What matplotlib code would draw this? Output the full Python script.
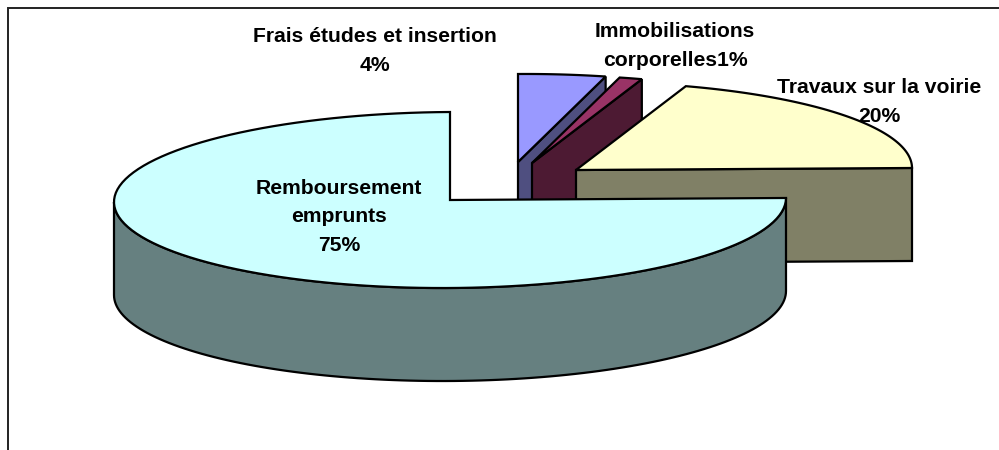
#!/usr/bin/env python3
"""
Exploded 3D-look pie chart of the investment budget
"""

import matplotlib
matplotlib.use('Agg')
import matplotlib.pyplot as plt
import numpy as np
from matplotlib.patches import Polygon

# Data, clockwise from the top of the pie
categories = ['Frais études et insertion', 'Immobilisations corporelles',
              'Travaux sur la voirie', 'Remboursement emprunts']
shares = [4.2, 1.1, 19.7, 75.0]
labels = ['Frais études et insertion\n4%', 'Immobilisations\ncorporelles1%',
          'Travaux sur la voirie\n20%', 'Remboursement\nemprunts\n75%']

top_colors = ['#9999FF', '#993366', '#FFFFCC', '#CCFFFF']
side_colors = ['#4F4F80', '#4D1A33', '#808066', '#668080']

# Pie apex of each slice (exploded) and label position, in pixels
apex_x = [518, 532, 576, 450]
apex_y = [162, 163, 170, 200]
label_x = [375, 675, 879, 339]
label_y = [51, 46, 102, 217]

RX, RY, DEPTH = 336, 88, 93
TILT = 0.006
LW = 1.6


def rim(cx, cy, start, end, n=120):
    """Points on the top rim between two angles (degrees, clockwise from top)"""
    t = np.radians(np.linspace(start, end, n))
    x = cx + RX * np.sin(t)
    y = cy - RY * np.cos(t) - TILT * RX * np.sin(t)
    return np.column_stack([x, y])


fig = plt.figure(figsize=(9.99, 4.5), dpi=100)
ax = fig.add_axes([0, 0, 1, 1])
ax.set_xlim(0, 999)
ax.set_ylim(450, 0)
ax.axis('off')

# Chart frame: only top and left show
ax.plot([7.5, 7.5, 999], [450, 7.5, 7.5], color='#222222', lw=1.4, solid_joinstyle='miter')

angles = np.cumsum([0] + shares) * 3.6

# Back to front so nearer slices cover the others
for i in range(len(shares)):
    cx, cy = apex_x[i], apex_y[i]
    start, end = angles[i], angles[i + 1]
    edge = rim(cx, cy, start, end)

    # side faces
    if end > 180:
        wall = rim(cx, cy, start, 270)
        wall_low = wall[::-1] + [0, DEPTH]
        ax.add_patch(Polygon(np.vstack([wall, wall_low]), closed=True, facecolor=side_colors[i],
                             edgecolor='black', lw=LW, zorder=2 + i * 2))
    else:
        outer = edge[-1]
        face = [(cx, cy), outer, outer + [0, DEPTH], (cx, cy + DEPTH)]
        ax.add_patch(Polygon(face, closed=True, facecolor=side_colors[i],
                             edgecolor='black', lw=LW, zorder=2 + i * 2))

    # top face
    ax.add_patch(Polygon(np.vstack([[cx, cy], edge]), closed=True, facecolor=top_colors[i],
                         edgecolor='black', lw=LW, zorder=3 + i * 2))

for x, y, s in zip(label_x, label_y, labels):
    ax.text(x, y, s, ha='center', va='center', fontsize=15.2, fontweight='bold',
            family='Liberation Sans', color='black', linespacing=1.62, zorder=20)

plt.savefig('out.png', dpi=100)
